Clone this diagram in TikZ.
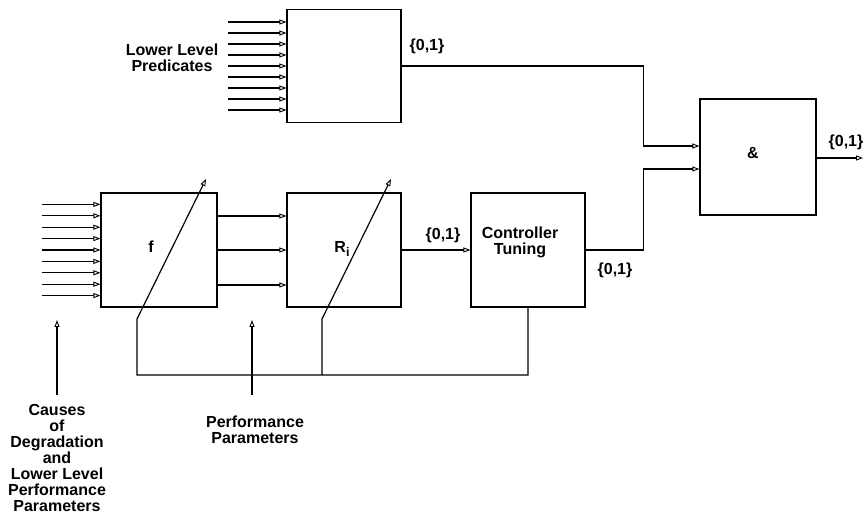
\documentclass[tikz,border=0pt]{standalone}
\usepackage{fontspec}
\setmainfont{Liberation Sans}
\usetikzlibrary{arrows.meta}

\tikzset{
  blk/.style={draw, line width=1.2pt, minimum width=114pt, minimum height=114pt, inner sep=0pt},
  arr/.style={line width=1.2pt, -{Triangle[open,length=7pt,width=5pt,line width=0.9pt]}},
  wire/.style={line width=1.2pt},
  lbl/.style={font=\fontsize{16}{16}\selectfont\bfseries, align=center, inner sep=1pt},
}

\begin{document}
\begin{tikzpicture}[x=1pt,y=-1pt]
\useasboundingbox (0,0) rectangle (864,518);

% Bloques
\node[blk, minimum height=113pt] (pred) at (344,66) {};
\node[blk, minimum width=116pt] (fbox) at (159,250) {};
\node[blk] (Rbox) at (344,250) {};
\node[blk] (ctrl) at (528,250) {};
\node[blk, minimum width=116pt, minimum height=116pt] (and) at (758,157) {};

% Textos de los bloques
\node[lbl] (ftxt) at ([xshift=-8pt,yshift=3pt]fbox.center) {f};
\node[lbl] (Rtxt) at ([xshift=-2pt,yshift=1pt]Rbox.center) {R\raisebox{-4pt}{\fontsize{12.5}{12}\selectfont i}};
\node[lbl] (ctrltxt) at ([xshift=-8pt,yshift=8pt]ctrl.center) {Controller\\Tuning};
\node[lbl] (andtxt) at ([xshift=-5pt,yshift=4pt]and.center) {\&};

% Entradas
\foreach \k in {-4,...,4}
  \draw[arr] ([xshift=-58pt,yshift=\k*11pt]pred.west) -- ([yshift=\k*11pt]pred.west);
\foreach \k in {-4,...,4}
  \draw[arr] ([xshift=-58pt,yshift=\k*11.4pt]fbox.west) -- ([yshift=\k*11.4pt]fbox.west);

% f hacia R
\foreach \d in {34,0,-35}
  \draw[arr] ([yshift=\d pt]fbox.east) -- ([yshift=\d pt]Rbox.west);

% Salidas binarias
\draw[arr] (Rbox.east) -- (ctrl.west);
\draw[arr] (pred.east) -| ([xshift=-56pt,yshift=11pt]and.west) -- ([yshift=11pt]and.west);
\draw[arr] (ctrl.east) -| ([xshift=-56pt,yshift=-12pt]and.west) -- ([yshift=-12pt]and.west);
\coordinate (out) at (863,158);
\draw[arr] (and.east |- out) -- (out);

% Realimentacion
\coordinate (fb1) at (137,375);
\coordinate (fk1) at (137,319);
\coordinate (ft1) at (206,179);
\coordinate (fb2) at (322,375);
\coordinate (fk2) at (322,319);
\coordinate (ft2) at (391,179);
\draw[arr] (ctrl.south) |- (fb1) -- (fk1) -- (ft1);
\draw[arr] (fb2) -- (fk2) -- (ft2);

% Etiquetas {0,1}
\node[lbl] (b1) at (427,46) {\{0,1\}};
\node[lbl] (b2) at (443,235) {\{0,1\}};
\node[lbl] (b3) at (615,270) {\{0,1\}};
\node[lbl] (b4) at (846,142) {\{0,1\}};

% Etiquetas externas
\node[lbl] (predtxt) at (172,58) {Lower Level\\Predicates};
\node[lbl, anchor=north] (causes) at (57,403) {Causes\\of\\Degradation\\and\\Lower Level\\Performance\\Parameters};
\node[lbl, anchor=north] (perf) at (255,415) {Performance\\Parameters};

% Flechas inferiores
\coordinate (ca) at (57,395);
\coordinate (pa) at (252,395);
\draw[arr] (ca) -- ++(0,-75);
\draw[arr] (pa) -- ++(0,-75);

\end{tikzpicture}
\end{document}
